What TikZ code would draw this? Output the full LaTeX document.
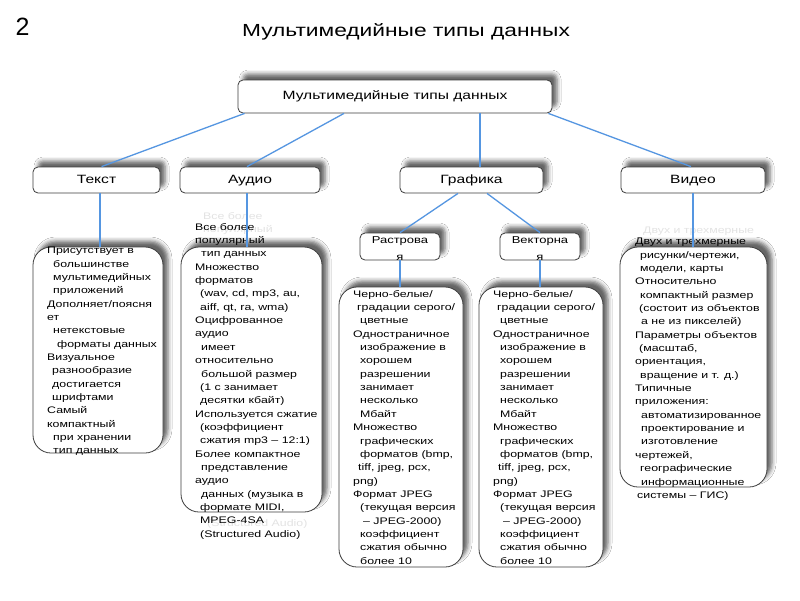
\documentclass[tikz,border=0pt]{standalone}
\usepackage{fontspec}
\setmainfont{Liberation Sans}[FakeStretch=1.3]
\newfontfamily\plainsans{Liberation Sans}
\usetikzlibrary{shadows.blur,calc}
\definecolor{connc}{RGB}{85,150,225}
\definecolor{boxline}{RGB}{60,60,60}
\tikzset{
 smallbox/.style={draw=boxline, line width=0.8pt, fill=white, rounded corners=5pt,
   blur shadow={shadow xshift=5pt, shadow yshift=6pt, shadow opacity=60, shadow blur radius=4pt},
   inner sep=0pt},
 bigbox/.style={smallbox, rounded corners=18pt},
 body/.style={inner sep=0pt, anchor=north west, align=left, font=\fontsize{9.5}{13.35}\selectfont, text=black},
 ghost/.style={body, text=gray!22},
 conn/.style={draw=connc, line width=1.3pt},
 lbl/.style={font=\fontsize{12}{14}\selectfont, text height=8.8pt, text depth=2.6pt},
 sublbl/.style={font=\fontsize{10}{16.5}\selectfont, align=center, inner sep=0pt}
}
\newcommand{\graftext}{Черно-белые/\\
\hspace*{4pt}градации серого/\\
\hspace*{7pt}цветные\\
Одностраничное\\
\hspace*{7pt}изображение в\\
\hspace*{7pt}хорошем\\
\hspace*{7pt}разрешении\\
\hspace*{7pt}занимает\\
\hspace*{7pt}несколько\\
\hspace*{7pt}Мбайт\\
Множество\\
\hspace*{7pt}графических\\
\hspace*{7pt}форматов (bmp,\\
\hspace*{5pt}tiff, jpeg, pcx,\\
png)\\
Формат JPEG\\
\hspace*{7pt}(текущая версия\\
\hspace*{10pt}– JPEG-2000)\\
\hspace*{7pt}коэффициент\\
\hspace*{7pt}сжатия обычно\\
\hspace*{7pt}более 10}
\begin{document}
\begin{tikzpicture}[x=1pt,y=-1pt]
\useasboundingbox (0,0) rectangle (800,600);
\fill[white] (0,0) rectangle (800,600);

% heading
\node[font=\plainsans\fontsize{25}{28}\selectfont, inner sep=0pt] (num) at (22.5,27) {2};
\node[font=\fontsize{17.5}{20}\selectfont, inner sep=0pt] (title) at (406,31.5) {Мультимедийные типы данных};

% faint text shadows visible outside the boxes
\node[ghost] (ghaudio) at (203,212) {Все более\\популярный};
\node[ghost] (ghaudio2) at (207,519) {(Structured Audio)};
\node[ghost] (ghvideo) at (643,227) {Двух и трехмерные};

% boxes
\node[smallbox, lbl, minimum width=314pt, minimum height=33pt] (root) at (395,96.5) {Мультимедийные типы данных};
\node[smallbox, lbl, minimum width=127pt, minimum height=26pt] (tekst) at (96.5,180) {Текст};
\node[smallbox, lbl, minimum width=140pt, minimum height=26pt] (audio) at (250,180) {Аудио};
\node[smallbox, lbl, minimum width=143pt, minimum height=26pt] (grafika) at (471.5,180) {Графика};
\node[smallbox, lbl, minimum width=144pt, minimum height=26pt] (video) at (693,180) {Видео};
\node[smallbox, minimum width=80pt, minimum height=27pt] (rast) at (400,246.5) {};
\node[smallbox, minimum width=80pt, minimum height=27pt] (vect) at (540,246.5) {};
\node[sublbl] (rastl) at (400,248.5) {Растрова\\я};
\node[sublbl] (vectl) at (540,248.5) {Векторна\\я};

\node[bigbox, minimum width=130pt, minimum height=206pt] (ctext) at (98,350) {};
\node[bigbox, minimum width=141pt, minimum height=265pt] (caudio) at (251.5,379.5) {};
\node[bigbox, minimum width=124pt, minimum height=280pt] (crast) at (401,427) {};
\node[bigbox, minimum width=124pt, minimum height=280pt] (cvect) at (541,427) {};
\node[bigbox, minimum width=147pt, minimum height=240pt] (cvideo) at (693.5,367) {};

% body texts
\node[body] (ttext) at (47,247) {Присутствует в\\
\hspace*{6pt}большинстве\\
\hspace*{6pt}мультимедийных\\
\hspace*{6pt}приложений\\
Дополняет/поясня\\
ет\\
\hspace*{6pt}нетекстовые\\
\hspace*{10pt}форматы данных\\
Визуальное\\
\hspace*{5pt}разнообразие\\
\hspace*{5pt}достигается\\
\hspace*{5pt}шрифтами\\
Самый\\
компактный\\
\hspace*{6pt}при хранении\\
\hspace*{6pt}тип данных};
\node[body] (atext) at (195,223) {Все более\\
популярный\\
\hspace*{6pt}тип данных\\
Множество\\
форматов\\
\hspace*{5pt}(wav, cd, mp3, au,\\
\hspace*{5pt}aiff, qt, ra, wma)\\
Оцифрованное\\
аудио\\
\hspace*{6pt}имеет\\
относительно\\
\hspace*{6pt}большой размер\\
\hspace*{5pt}(1 с занимает\\
\hspace*{5pt}десятки кбайт)\\
Используется сжатие\\
\hspace*{5pt}(коэффициент\\
\hspace*{5pt}сжатия mp3 – 12:1)\\
Более компактное\\
\hspace*{6pt}представление\\
аудио\\
\hspace*{6pt}данных (музыка в\\
\hspace*{5pt}формате MIDI,\\
\hspace*{5pt}MPEG-4SA\\
\hspace*{5pt}(Structured Audio)};
\node[body] (rtext) at (353,290) {\graftext};
\node[body] (vtext) at (493,290) {\graftext};
\node[body] (vitext) at (635,238) {Двух и трехмерные\\
\hspace*{5pt}рисунки/чертежи,\\
\hspace*{5pt}модели, карты\\
Относительно\\
\hspace*{5pt}компактный размер\\
\hspace*{4pt}(состоит из объектов\\
\hspace*{6pt}а не из пикселей)\\
Параметры объектов\\
\hspace*{4pt}(масштаб,\\
ориентация,\\
\hspace*{5pt}вращение и т. д.)\\
Типичные\\
приложения:\\
\hspace*{6pt}автоматизированное\\
\hspace*{6pt}проектирование и\\
\hspace*{6pt}изготовление\\
чертежей,\\
\hspace*{5pt}географические\\
\hspace*{6pt}информационные\\
\hspace*{2pt}системы – ГИС)};

% connectors
\draw[conn] ([xshift=7pt]root.south west) -- ([xshift=5pt]tekst.north);
\draw[conn] ([xshift=-51pt]root.south) -- ([xshift=-3pt]audio.north);
\path (grafika.north) ++(8.5,0) coordinate (gb);
\draw[conn] (gb) -- (gb |- root.south);
\draw[conn] ([xshift=-4pt]root.south east) -- ([xshift=-2pt]video.north);
\draw[conn] ([xshift=-13.5pt]grafika.south) -- (rast.north);
\draw[conn] ([xshift=15.5pt]grafika.south) -- (vect.north);
\path (tekst.south) ++(3.5,0) coordinate (ta);
\draw[conn] (ta) -- (ta |- ctext.north);
\path (audio.south) ++(-3,0) coordinate (aa);
\draw[conn] (aa) -- (aa |- caudio.north);
\draw[conn] (video.south) -- (video.south |- cvideo.north);
\draw[conn] (rast.south) -- (rast.south |- crast.north);
\draw[conn] (vect.south) -- (vect.south |- cvect.north);
\end{tikzpicture}
\end{document}
